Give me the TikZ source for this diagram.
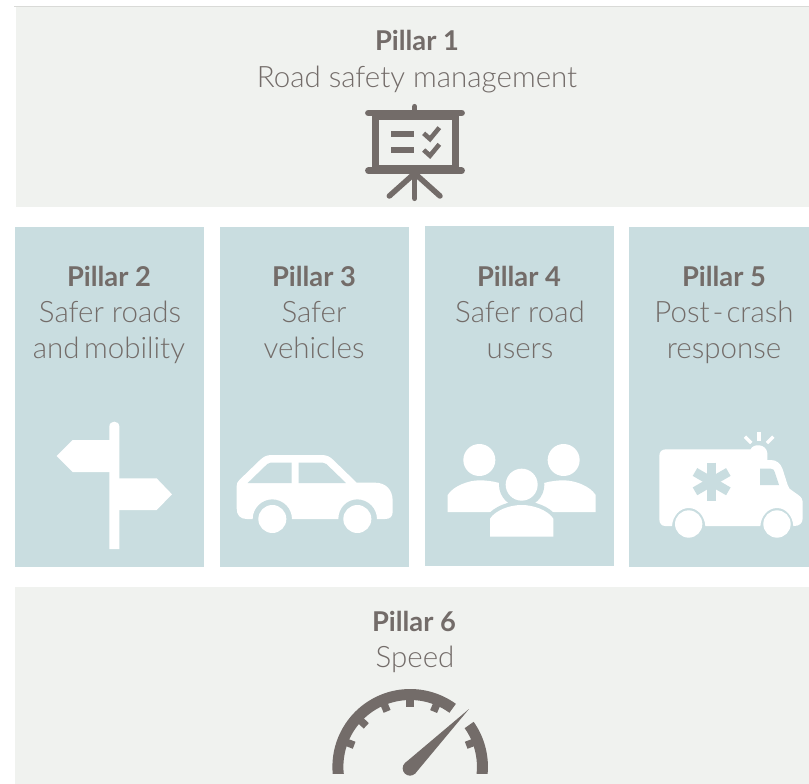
\documentclass[tikz,border=0pt]{standalone}
\usepackage{fontspec}
\setmainfont{Lato}
\newfontfamily\lightf{Lato Light}
\definecolor{bandc}{HTML}{F0F2EF}
\definecolor{bluec}{HTML}{C9DDE0}
\definecolor{inkc}{HTML}{736C69}
\definecolor{topc}{HTML}{D9DAD7}
\tikzset{
  pillarhead/.style={text=inkc,font=\fontsize{27.3}{30}\selectfont\bfseries,inner sep=0pt,anchor=base},
  pillarsub/.style={text=inkc,font=\lightf\fontsize{29.5}{30}\selectfont,inner sep=0pt,anchor=base},
  zoomed/.style={shift={(#1)},x=.33333pt,y=-.33333pt},
  whitefill/.style={fill=white,draw=none},
  bluefill/.style={fill=bluec,draw=none},
  inkfill/.style={fill=inkc,draw=none},
  inkline/.style={draw=inkc,line width=#1,line cap=round,line join=round}
}
\begin{document}
\begin{tikzpicture}[x=1pt,y=-1pt]
\useasboundingbox (0,0) rectangle (809,784);
\fill[white] (0,0) rectangle (809,784);
\fill[topc] (14,6) rectangle (809,7);
\fill[bandc] (16,7) rectangle (809,207);
\fill[bandc] (15,587) rectangle (809,784);
\fill[bluec] (15,227) rectangle (204,567);
\fill[bluec] (220,227) rectangle (409,567);
\fill[bluec] (425,226) rectangle (614,566);
\fill[bluec] (629,227) rectangle (809,567);
% texts
\node[pillarhead] (h1) at (417,51) {Pillar 1};
\node[pillarsub] (s1) at (417,87.5) {Road safety management};
\node[pillarhead] (h2) at (109,286) {Pillar 2};
\node[pillarsub] (s2a) at (110,322) {Safer roads};
\node[pillarsub] (s2b) at (109,358) {and\kern-3.5pt\ mobility};
\node[pillarhead] (h3) at (314,286) {Pillar 3};
\node[pillarsub] (s3a) at (314,322) {Safer};
\node[pillarsub] (s3b) at (314,358) {vehicles};
\node[pillarhead] (h4) at (519,286) {Pillar 4};
\node[pillarsub] (s4a) at (520,322) {Safer road};
\node[pillarsub] (s4b) at (520,358) {users};
\node[pillarhead] (h5) at (724,286) {Pillar 5};
\node[pillarsub] (s5a) at (724,322) {Post\kern3pt-\kern3pt crash};
\node[pillarsub] (s5b) at (724,358) {response};
\node[pillarhead] (h6) at (414,631) {Pillar 6};
\node[pillarsub] (s6) at (415,667) {Speed};
% board icon
\begin{scope}[zoomed={340,90}]
\draw[inkline=6.5pt] (85,69) -- (365,69);
\draw[inkline=5.5pt] (224,50) -- (224,69);
\draw[inkline=6.5pt] (85,242) -- (365,242);
\draw[draw=inkc,line width=7pt] (105,79) rectangle (346,235);
\draw[inkline=5.5pt] (224,250) -- (224,325);
\draw[inkline=5.5pt] (224,250) -- (148,318);
\draw[inkline=5.5pt] (224,250) -- (300,318);
\fill[inkc] (154,122) rectangle (221,140);
\fill[inkc] (154,171) rectangle (221,189);
\draw[draw=inkc,line width=4.6pt] (251,130) -- (270,147) -- (298,113);
\draw[draw=inkc,line width=4.6pt] (251,180) -- (270,197) -- (298,163);
\end{scope}
% signpost
\begin{scope}[zoomed={20,410}]
\path[whitefill] (268,417) -- (268,50) .. controls (268,30) and (298,30) .. (298,50) -- (298,417) -- cycle;
\path[whitefill] (275,90) -- (158,90) -- (110,138) -- (158,186) -- (275,186) -- cycle;
\path[whitefill] (290,205) -- (410,205) -- (456,253) -- (410,300) -- (290,300) -- cycle;
\end{scope}
% car
\begin{scope}[zoomed={20,410}]
\path[whitefill] (650,228) .. controls (650,220) and (653,215) .. (658,210)
  -- (718,152) .. controls (730,140) and (740,135) .. (755,135)
  -- (905,135) .. controls (920,135) and (930,140) .. (940,150)
  -- (1010,218) -- (1065,218) .. controls (1098,218) and (1118,240) .. (1118,272)
  -- (1118,305) .. controls (1118,320) and (1110,327) .. (1095,327)
  -- (1071,327) .. controls (1071,295) and (1045,268) .. (1012,268)
  .. controls (979,268) and (955,295) .. (955,327)
  -- (816,327) .. controls (816,295) and (790,268) .. (757,268)
  .. controls (724,268) and (698,295) .. (698,327)
  -- (680,327) .. controls (660,327) and (650,315) .. (650,295) -- cycle;
\path[whitefill] (757,327) circle[radius=42];
\path[whitefill] (1012,327) circle[radius=42];
\path[bluefill] (683,219) -- (742,162) .. controls (745,159) and (748,158) .. (752,158) -- (815,158) -- (815,219) -- cycle;
\path[bluefill] (836,158) -- (908,158) .. controls (913,158) and (916,159) .. (919,162) -- (978,219) -- (836,219) -- cycle;
\end{scope}
% people
\begin{scope}[zoomed={430,420}]
\path[whitefill] (148,120) circle[radius=48];
\path[whitefill] (401,120) circle[radius=48];
\path[whitefill] (53,276) -- (53,225) .. controls (70,198) and (115,181) .. (148,181)
  .. controls (185,181) and (230,190) .. (260,215) -- (260,276) -- cycle;
\path[whitefill] (497,276) -- (497,225) .. controls (480,198) and (435,181) .. (401,181)
  .. controls (365,181) and (320,190) .. (290,215) -- (290,276) -- cycle;
\fill[bluec] (275,194) circle[radius=68];
\draw[fill=bluec,draw=bluec,line width=8pt] (180,350) -- (180,296) .. controls (197,270) and (240,255) .. (275,255)
  .. controls (310,255) and (353,270) .. (370,296) -- (370,350) -- cycle;
\path[whitefill] (275,194) circle[radius=48];
\path[whitefill] (180,350) -- (180,296) .. controls (197,270) and (240,255) .. (275,255)
  .. controls (310,255) and (353,270) .. (370,296) -- (370,350) -- cycle;
\end{scope}
% ambulance
\begin{scope}[zoomed={430,420}]
\path[whitefill] (688,108) .. controls (688,95) and (695,88) .. (708,88)
  -- (962,88) .. controls (968,70) and (1010,70) .. (1012,100) -- (1012,120) -- (1022,120)
  .. controls (1040,120) and (1052,130) .. (1058,148)
  -- (1073,195) .. controls (1076,205) and (1080,208) .. (1088,213)
  -- (1105,225) .. controls (1115,232) and (1118,238) .. (1118,250)
  -- (1118,295) .. controls (1118,310) and (1108,318) .. (1092,318)
  -- (1090,318) .. controls (1088,288) and (1068,264) .. (1041,264)
  .. controls (1014,264) and (993,288) .. (991,318)
  -- (826,318) .. controls (824,288) and (803,264) .. (776,264)
  .. controls (749,264) and (728,288) .. (726,318)
  -- (705,318) .. controls (695,318) and (688,310) .. (688,298) -- cycle;
\path[whitefill] (776,312) circle[radius=41];
\path[whitefill] (1041,312) circle[radius=41];
\path[bluefill] (990,146) -- (1022,146) .. controls (1030,146) and (1032,150) .. (1034,156) -- (1047,195) -- (990,195) -- cycle;
\draw[bluec,line width=9pt] (845,128) -- (845,243);
\draw[bluec,line width=9pt] (795,156) -- (895,214);
\draw[bluec,line width=9pt] (795,214) -- (895,156);
\draw[white,line width=3.4pt] (987,37) -- (987,62);
\draw[white,line width=3.4pt] (945,50) -- (964,69);
\draw[white,line width=3.4pt] (1030,50) -- (1011,69);
\end{scope}
% gauge
\begin{scope}[zoomed={320,675}]
\clip (0,0) rectangle (560,295);
\path[inkfill] plot[domain=190:54,samples=60] ({270.5+233.3*cos(\x)},{275.3-233.3*sin(\x)})
  -- plot[domain=54:190,samples=60] ({270.5+200.3*cos(\x)},{275.3-200.3*sin(\x)}) -- cycle;
\path[inkfill] plot[domain=35.3:-10,samples=30] ({270.5+233.3*cos(\x)},{275.3-233.3*sin(\x)})
  -- plot[domain=-10:35.3,samples=30] ({270.5+200.3*cos(\x)},{275.3-200.3*sin(\x)}) -- cycle;
\foreach \a in {90,112.6,137,159,67,21}{
  \draw[inkc,line width=7.5pt] ({270.5+205*cos(\a)},{275.3-205*sin(\a)}) -- ({270.5+180*cos(\a)},{275.3-180*sin(\a)});
}
\path[inkfill] (447,102) -- (285.6,295.5) -- (254.4,264.5) -- cycle;
\end{scope}
\begin{scope}[zoomed={320,675}]
\path[inkfill] (270,280) circle[radius=22];
\end{scope}
\end{tikzpicture}
\end{document}
